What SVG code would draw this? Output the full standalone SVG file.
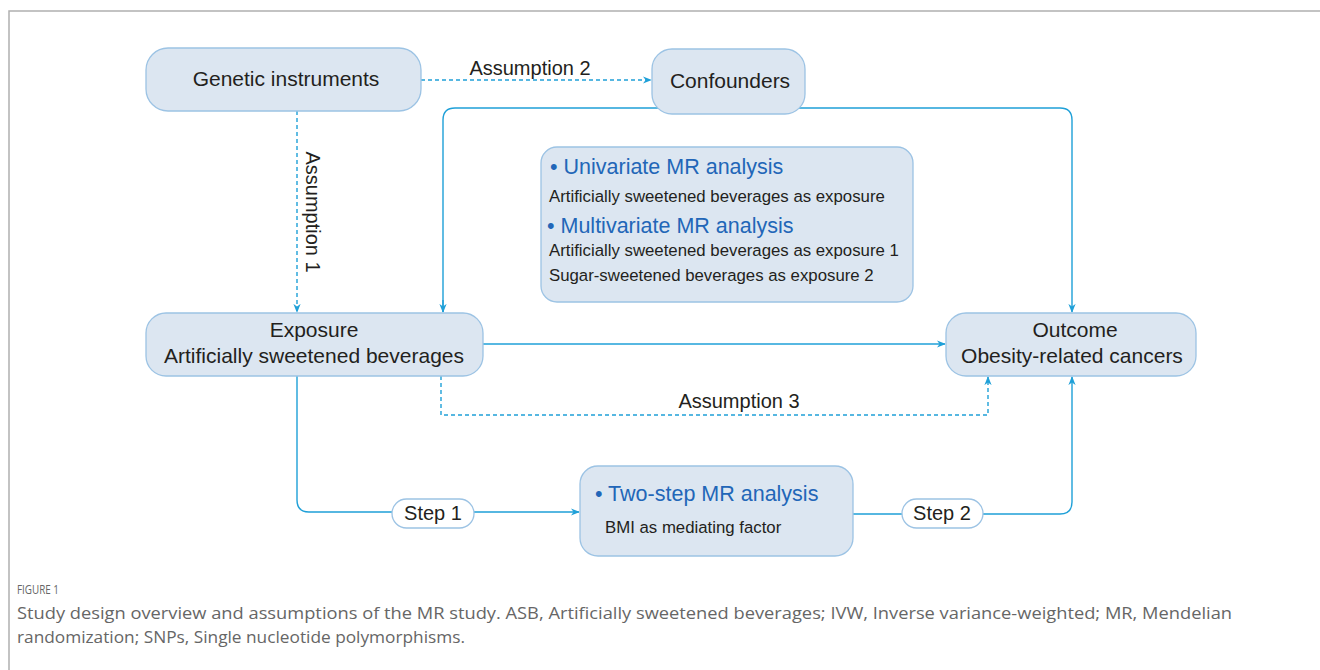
<svg xmlns="http://www.w3.org/2000/svg" width="1320" height="670" viewBox="0 0 1320 670">
<style>
.box{fill:#dce6f1;stroke:#9cc3e4;stroke-width:1.3}
.pill{fill:#ffffff;stroke:#9cc3e4;stroke-width:1.3}
.t{font-family:"Liberation Sans",Arial,sans-serif;fill:#231f20}
.big{font-size:21px}
.sm{font-size:16.8px}
.lab{font-size:20px}
.blue{font-family:"Liberation Sans",Arial,sans-serif;fill:#2266b8;font-size:21.5px}
.ln{fill:none;stroke:#1fa0d8;stroke-width:1.4}
.dash{stroke-dasharray:4 3}
.cap{font-family:"Open Sans",sans-serif;fill:#666666}
</style>
<defs>
<marker id="ah" viewBox="0 0 10 10" refX="9" refY="5" markerWidth="9" markerHeight="9" markerUnits="userSpaceOnUse" orient="auto">
<path d="M0,1 L10,5 L0,9 L3,5 Z" fill="#1fa0d8"/>
</marker>
</defs>
<rect width="1320" height="670" fill="#ffffff"/>
<path d="M9,670 V11 H1320" fill="none" stroke="#b0b0b0" stroke-width="1.5"/>

<g id="connectors">
<path class="ln" d="M443,312 V120 Q443,108 455,108 H1060 Q1072,108 1072,120 V312" marker-end="url(#ah)"/>
<path class="ln" d="M443,300 V312" marker-end="url(#ah)"/>
<path class="ln dash" d="M421,80 H651" marker-end="url(#ah)"/>
<path class="ln dash" d="M297,111 V312" marker-end="url(#ah)"/>
<path class="ln" d="M483,344 H945" marker-end="url(#ah)"/>
<path class="ln dash" d="M441,376 V415 H988 V377" marker-end="url(#ah)"/>
<path class="ln" d="M297,376 V500 Q297,512 309,512 H579" marker-end="url(#ah)"/>
<path class="ln" d="M853,514 H1060 Q1072,514 1072,502 V377" marker-end="url(#ah)"/>
</g>
<g id="labels">
<text class="t lab" x="530" y="75" text-anchor="middle">Assumption 2</text>
<text class="t lab" x="0" y="0" text-anchor="middle" transform="translate(306,212) rotate(90)">Assumption 1</text>
<text class="t lab" x="739" y="408" text-anchor="middle">Assumption 3</text>
</g>

<g id="genetic">
<rect class="box" x="146" y="48" width="275" height="63" rx="22"/>
<text class="t big" x="286" y="86" text-anchor="middle">Genetic instruments</text>
</g>
<g id="confounders">
<rect class="box" x="652" y="49" width="153" height="65" rx="20"/>
<text class="t big" x="730" y="88" text-anchor="middle">Confounders</text>
</g>
<g id="mr">
<rect class="box" x="541" y="147" width="372" height="155" rx="16"/>
<text class="blue" x="550" y="174">• Univariate MR analysis</text>
<text class="t sm" x="549" y="202">Artificially sweetened beverages as exposure</text>
<text class="blue" x="547" y="233">• Multivariate MR analysis</text>
<text class="t sm" x="549" y="256">Artificially sweetened beverages as exposure 1</text>
<text class="t sm" x="549" y="281">Sugar-sweetened beverages as exposure 2</text>
</g>
<g id="exposure">
<rect class="box" x="146" y="313" width="337" height="63" rx="20"/>
<text class="t big" x="314" y="337" text-anchor="middle">Exposure</text>
<text class="t big" x="314" y="363" text-anchor="middle">Artificially sweetened beverages</text>
</g>
<g id="outcome">
<rect class="box" x="946" y="313" width="250" height="63" rx="20"/>
<text class="t big" x="1075" y="337" text-anchor="middle">Outcome</text>
<text class="t big" x="1072" y="363" text-anchor="middle">Obesity-related cancers</text>
</g>
<g id="twostep">
<rect class="box" x="580" y="466" width="273" height="90" rx="18"/>
<text class="blue" x="595" y="501" font-size="21">• Two-step MR analysis</text>
<text class="t sm" x="605" y="533">BMI as mediating factor</text>
</g>
<g id="step1">
<rect class="pill" x="392" y="499" width="82" height="29" rx="14.5"/>
<text class="t lab" x="433" y="520" text-anchor="middle">Step 1</text>
</g>
<g id="step2">
<rect class="pill" x="902" y="499" width="81" height="29" rx="14.5"/>
<text class="t lab" x="942" y="520" text-anchor="middle">Step 2</text>
</g>

<g id="caption">
<text class="cap" x="17" y="594" font-size="12" textLength="42" lengthAdjust="spacingAndGlyphs">FIGURE 1</text>
<text class="cap" x="17" y="619" font-size="16" textLength="1215" lengthAdjust="spacingAndGlyphs">Study design overview and assumptions of the MR study. ASB, Artificially sweetened beverages; IVW, Inverse variance-weighted; MR, Mendelian</text>
<text class="cap" x="17" y="643" font-size="16" textLength="448" lengthAdjust="spacingAndGlyphs">randomization; SNPs, Single nucleotide polymorphisms.</text>
</g>
</svg>
